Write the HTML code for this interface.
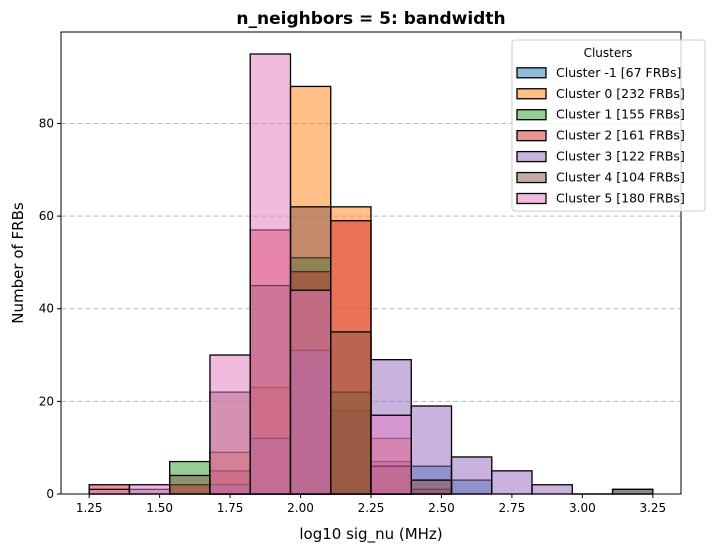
<!DOCTYPE html>
<html><head><meta charset="utf-8"><style>
body{margin:0;background:#fff;}
svg{display:block;font-family:"DejaVu Sans","Liberation Sans",sans-serif;}
</style></head><body>
<svg id="chart" width="714" height="552" xmlns="http://www.w3.org/2000/svg">
<rect width="714" height="552" fill="#fff"/>
<text x="371" y="24" text-anchor="middle" font-size="17" font-weight="bold">n_neighbors = 5: bandwidth</text>
<g id="grid"></g>
<g id="bars"></g>
<rect x="61" y="32" width="620" height="462" fill="none" stroke="#000" stroke-width="1"/>
<g id="axes"></g>
<text x="371" y="539" text-anchor="middle" font-size="15">log10 sig_nu (MHz)</text>
<text transform="translate(23,263) rotate(-90)" text-anchor="middle" font-size="15">Number of FRBs</text>
<g id="legend"></g>
</svg>
<script>
const binStart = 1.25;
const binWidth = 2 / 14;
const clusterNames = ["Cluster -1 [67 FRBs]","Cluster 0 [232 FRBs]","Cluster 1 [155 FRBs]","Cluster 2 [161 FRBs]","Cluster 3 [122 FRBs]","Cluster 4 [104 FRBs]","Cluster 5 [180 FRBs]"];
const clusterColors = ["#1f77b4","#ff7f0e","#2ca02c","#d62728","#9467bd","#8c564b","#e377c2"];
const countsCm1 = [0,0,0,0,0,26,18,4,6,3,0,0,0,1];
const counts0   = [0,0,0,9,23,88,62,12,0,0,0,0,0,0];
const counts1   = [0,0,7,0,0,51,22,0,0,0,0,0,0,0];
const counts2   = [2,0,2,5,57,48,59,7,1,0,0,0,0,0];
const counts3   = [0,1,0,2,12,31,0,29,19,8,5,2,0,0];
const counts4   = [0,0,4,22,45,62,35,6,3,0,0,0,0,1];
const counts5   = [1,2,0,30,95,44,0,17,0,0,0,0,0,0];
const allCounts = [countsCm1,counts0,counts1,counts2,counts3,counts4,counts5];
const drawOrder = [0,1,2,3,4,5,6];
const xTicks = [1.25,1.5,1.75,2.0,2.25,2.5,2.75,3.0,3.25];
const xTickLabels = ["1.25","1.50","1.75","2.00","2.25","2.50","2.75","3.00","3.25"];
const yTicks = [0,20,40,60,80];

const NS="http://www.w3.org/2000/svg";
const X0=61,X1=681,Y0=494,Y1=32,XMIN=1.15,XMAX=3.35,YMAX=99.75;
const xs=v=>X0+(v-XMIN)/(XMAX-XMIN)*(X1-X0);
const ys=v=>Y0-v/YMAX*(Y0-Y1);
function mk(tag,attrs,parent){const e=document.createElementNS(NS,tag);for(const k in attrs)e.setAttribute(k,attrs[k]);parent.appendChild(e);return e;}
const grid=document.getElementById('grid'),bars=document.getElementById('bars'),axes=document.getElementById('axes'),legend=document.getElementById('legend');
yTicks.forEach(t=>{
  if(t>0){const g=mk('line',{x1:X0,x2:X1,y1:ys(t),y2:ys(t),stroke:'#bbb','stroke-dasharray':'5,3','stroke-width':1},grid);
  
  }
  const tk=mk('line',{x1:X0-4,x2:X0,y1:ys(t),y2:ys(t),stroke:'#000'},axes);
  
  
  const tx=mk('text',{x:X0-7,y:ys(t)+4,'text-anchor':'end','font-size':12},axes);
  tx.textContent=t;
  
  
});
xTicks.forEach((t,i)=>{
  const tk=mk('line',{x1:xs(t),x2:xs(t),y1:Y0,y2:Y0+4,stroke:'#000'},axes);
  
  
  const tx=mk('text',{x:xs(t),y:Y0+18,'text-anchor':'middle','font-size':12},axes);
  tx.textContent=xTickLabels[i];
  
  
});
drawOrder.forEach(c=>{
  allCounts[c].forEach((v,b)=>{
    if(v<=0)return;
    const l=xs(binStart+b*binWidth),r=xs(binStart+(b+1)*binWidth);
    const rc=mk('rect',{x:l,y:ys(v),width:r-l,height:ys(0)-ys(v),fill:clusterColors[c],'fill-opacity':0.5,stroke:'#000','stroke-width':1.3},bars);
    
    
  });
});
mk('line',{x1:xs(binStart+12*binWidth),x2:xs(binStart+13*binWidth),y1:Y0,y2:Y0,stroke:'#000','stroke-width':1.5},bars);
const lb=mk('rect',{x:512,y:40,width:193,height:171,rx:3,fill:'#fff','fill-opacity':0.8,stroke:'#ccc'},legend);


const lt=mk('text',{x:608,y:57,'text-anchor':'middle','font-size':12},legend);
lt.textContent='Clusters';


clusterNames.forEach((n,i)=>{
  const cy=72.3+i*20.95;
  const g=mk('g',{},legend);
  
  
  mk('rect',{x:517,y:cy-4.5,width:29,height:10,fill:clusterColors[i],'fill-opacity':0.5,stroke:'#000','stroke-width':1.3},g);
  const t=mk('text',{x:556,y:cy+4.5,'font-size':12.5},g);
  t.textContent=n;
});
</script>
</body></html>
